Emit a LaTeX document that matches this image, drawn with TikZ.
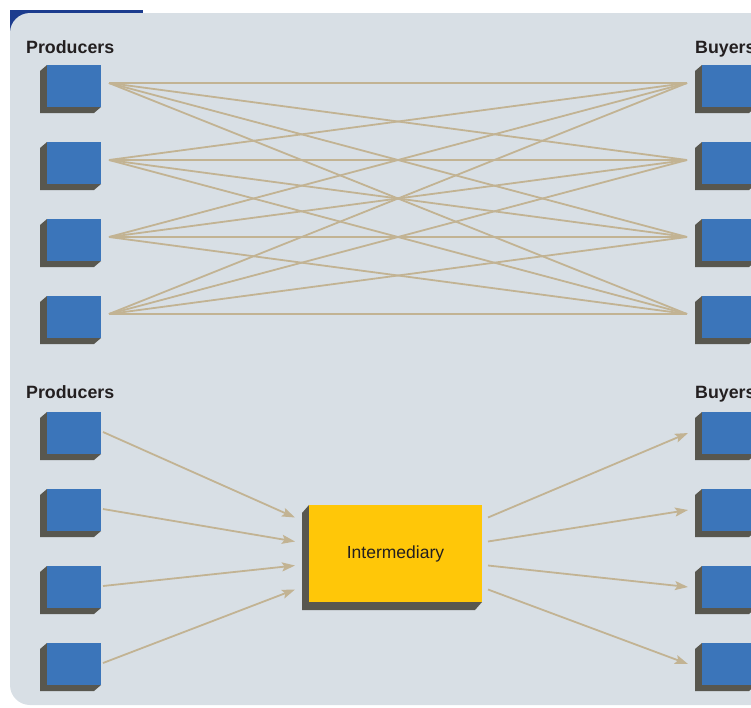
\documentclass[tikz,border=0pt]{standalone}
\usepackage{fontspec}
\setmainfont{Liberation Sans}
\usetikzlibrary{arrows.meta,calc}

\definecolor{panelgray}{HTML}{D8DFE5}
\definecolor{tabnavy}{HTML}{1C3C8E}
\definecolor{boxblue}{HTML}{3B75BA}
\definecolor{shadegray}{HTML}{58574F}
\definecolor{linktan}{HTML}{C2B393}
\definecolor{gold}{HTML}{FFC708}
\definecolor{inkdark}{HTML}{231F20}

\pgfdeclarelayer{panel}
\pgfdeclarelayer{shade}
\pgfsetlayers{panel,shade,main}

% extruded side of a box: front face node #1, depth vector #2
\newcommand\boxshade[2]{%
  \begin{pgfonlayer}{shade}
    \fill[shadegray] (#1.north west) -- ($(#1.north west)+(#2)$)
      -- ($(#1.south west)+(#2)$) -- ($(#1.south east)+(#2)$)
      -- (#1.south east) -- cycle;
  \end{pgfonlayer}}

\begin{document}
\begin{tikzpicture}[x=1pt,y=1pt,
  face/.style={rectangle, fill=boxblue, minimum width=54pt, minimum height=42pt,
    inner sep=0pt, outer sep=0pt, anchor=north west},
  hub/.style={rectangle, fill=gold, minimum width=173pt, minimum height=97pt,
    inner sep=0pt, outer sep=0pt, anchor=north west, text=inkdark,
    font=\fontsize{17.5}{20}\selectfont},
  lbl/.style={anchor=base west, inner sep=0pt, text=inkdark,
    font=\fontsize{17.8}{20}\selectfont\bfseries},
  link/.style={draw=linktan, line width=1.8pt},
  flow/.style={link, -{Stealth[length=13pt,width=9pt,inset=2.5pt]}}]

\useasboundingbox (0,0) rectangle (751,-707);
\clip (0,0) rectangle (751,-707);

% background panel with the navy tab behind its corner
\begin{pgfonlayer}{panel}
  \fill[tabnavy] (10,-10) rectangle (143,-45);
  \fill[panelgray, rounded corners=20pt] (10,-13) rectangle (800,-705);
\end{pgfonlayer}

% headings
\node[lbl] (hpt) at (26,-53) {Producers};
\node[lbl] (hbt) at (695,-53) {Buyers};
\node[lbl] (hpb) at (26,-398) {Producers};
\node[lbl] (hbb) at (695,-398) {Buyers};

% direct exchange: every producer to every buyer
\foreach \i/\t in {1/65,2/142,3/219,4/296}{
  \node[face] (tp\i) at (47,-\t) {};
  \node[face] (tb\i) at (702,-\t) {};
  \boxshade{tp\i}{-7,-6}
  \boxshade{tb\i}{-7,-6}
}
\foreach \i in {1,...,4}
  \foreach \j in {1,...,4}
    \draw[link] ([shift={(8,3)}]tp\i.east) -- ([shift={(-15,3)}]tb\j.west);

% exchange through an intermediary
\node[hub] (im) at (309,-505) {Intermediary};
\boxshade{im}{-7,-8}

\foreach \i/\t in {1/412,2/489,3/566,4/643}{
  \node[face] (bp\i) at (47,-\t) {};
  \node[face] (bb\i) at (702,-\t) {};
  \boxshade{bp\i}{-7,-6}
  \boxshade{bb\i}{-7,-6}
}
\foreach \i/\o in {1/36,2/12,3/-12,4/-36}{
  \draw[flow] ([shift={(2,1)}]bp\i.east) -- ([shift={(-14,\o)}]im.west);
  \draw[flow] ([shift={(6,\o)}]im.east) -- ([xshift=-14pt]bb\i.west);
}
\end{tikzpicture}
\end{document}
